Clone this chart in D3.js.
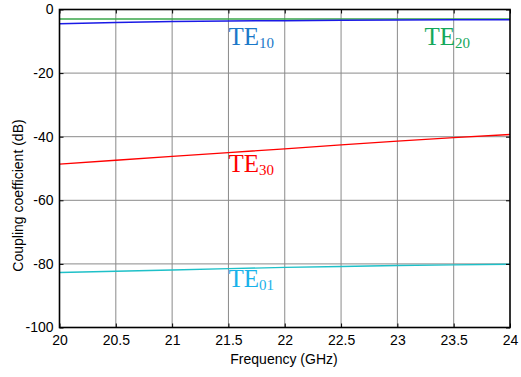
<!DOCTYPE html>
<html>
<head>
<meta charset="utf-8">
<script src="https://cdn.jsdelivr.net/npm/d3@7/dist/d3.min.js"></script>
<style>
  html, body { margin: 0; padding: 0; background: #fff; }
  svg { display: block; }
</style>
</head>
<body>
<svg id="chart" width="521" height="377"></svg>
<script>
// Frequency sweep (GHz)
const freq = [20, 20.5, 21, 21.5, 22, 22.5, 23, 23.5, 24];

// Coupling coefficient per mode (dB)
const te10 = [-4.5, -4.1, -3.8, -3.6, -3.5, -3.4, -3.3, -3.25, -3.2];
const te20 = [-3.0, -3.0, -3.0, -3.0, -3.0, -3.0, -3.0, -3.0, -3.0];
const te30 = [-48.6, -47.4, -46.2, -45.0, -43.8, -42.6, -41.4, -40.3, -39.3];
const te01 = [-82.7, -82.3, -81.9, -81.5, -81.1, -80.8, -80.5, -80.3, -80.1];

// Tick labels
const xTicks = [20, 20.5, 21, 21.5, 22, 22.5, 23, 23.5, 24];
const yTicks = [0, -20, -40, -60, -80, -100];

const svg = d3.select("#chart");
const pLeft = 59.5, pRight = 510, pTop = 9.5, pBottom = 327.5;

const x = d3.scaleLinear().domain([20, 24]).range([pLeft, pRight]);
const y = d3.scaleLinear().domain([-100, 0]).range([pBottom, pTop]);

const font = "'Liberation Sans', Arial, sans-serif";
const fs = 14;
const plain = d => String(d);   // hyphen-minus, no typographic minus

// grid
const grid = svg.append("g");
grid.selectAll(".gx").data(xTicks.slice(1, -1)).enter().append("line")
  .attr("x1", d => x(d)).attr("x2", d => x(d))
  .attr("y1", pTop).attr("y2", pBottom)
  .attr("stroke", "#8a8a8a").attr("stroke-width", 1);
grid.selectAll(".gy").data(yTicks.slice(1, -1)).enter().append("line")
  .attr("x1", pLeft).attr("x2", pRight)
  .attr("y1", d => y(d)).attr("y2", d => y(d))
  .attr("stroke", "#8a8a8a").attr("stroke-width", 1);

// series
const series = [
  { vals: te01, color: "#1ec0c8", width: 1.4 },
  { vals: te30, color: "#ff0000", width: 1.3 },
  { vals: te20, color: "#3aa64a", width: 1.6 },
  { vals: te10, color: "#1a1ae6", width: 1.5 }
];
const line = d3.line().x((d, i) => x(freq[i])).y(d => y(d));
svg.selectAll(".series").data(series).enter().append("path")
  .attr("d", d => line(d.vals))
  .attr("fill", "none")
  .attr("stroke", d => d.color)
  .attr("stroke-width", d => d.width);

// axes (inward ticks on all four sides)
const styleAxis = g => {
  g.select(".domain").remove();
  g.selectAll(".tick line").attr("stroke", "#000").attr("stroke-width", 1);
  g.selectAll(".tick text").attr("font-family", font).attr("font-size", fs).attr("fill", "#000");
};
svg.append("g").attr("transform", `translate(0,${pBottom})`)
  .call(d3.axisBottom(x).tickValues(xTicks).tickFormat(plain).tickSizeInner(-4).tickPadding(8))
  .call(styleAxis);
svg.append("g").attr("transform", `translate(0,${pTop})`)
  .call(d3.axisTop(x).tickValues(xTicks).tickFormat("").tickSizeInner(-4))
  .call(styleAxis);
svg.append("g").attr("transform", `translate(${pLeft},0)`)
  .call(d3.axisLeft(y).tickValues(yTicks).tickFormat(plain).tickSizeInner(-4).tickPadding(6))
  .call(styleAxis);
svg.append("g").attr("transform", `translate(${pRight},0)`)
  .call(d3.axisRight(y).tickValues(yTicks).tickFormat("").tickSizeInner(-4))
  .call(styleAxis);

// frame
svg.append("rect")
  .attr("x", pLeft).attr("y", pTop)
  .attr("width", pRight - pLeft).attr("height", pBottom - pTop)
  .attr("fill", "none").attr("stroke", "#000").attr("stroke-width", 1.6);

// axis titles
svg.append("text")
  .attr("x", 284).attr("y", 364)
  .attr("text-anchor", "middle")
  .attr("font-family", font).attr("font-size", fs)
  .text("Frequency (GHz)");
svg.append("text")
  .attr("transform", `translate(23,${(pTop + pBottom) / 2 + 27}) rotate(-90)`)
  .attr("text-anchor", "middle")
  .attr("font-family", font).attr("font-size", fs)
  .text("Coupling coefficient (dB)");

// mode labels
const labels = [
  { sub: "10", fx: 21.5, y: 45, color: "#1a78c8" },
  { sub: "20", fx: 23.24, y: 45, color: "#14a85a" },
  { sub: "30", fx: 21.5, y: 172, color: "#ff0000" },
  { sub: "01", fx: 21.5, y: 287, color: "#18b2ea" }
];
labels.forEach(l => {
  const t = svg.append("text")
    .attr("x", x(l.fx)).attr("y", l.y)
    .attr("font-family", "'Liberation Serif', 'Times New Roman', serif")
    .attr("font-size", 25)
    .attr("fill", l.color);
  t.append("tspan").text("TE");
  t.append("tspan").attr("font-size", 15).attr("dy", 3).text(l.sub);
});
</script>
</body>
</html>
